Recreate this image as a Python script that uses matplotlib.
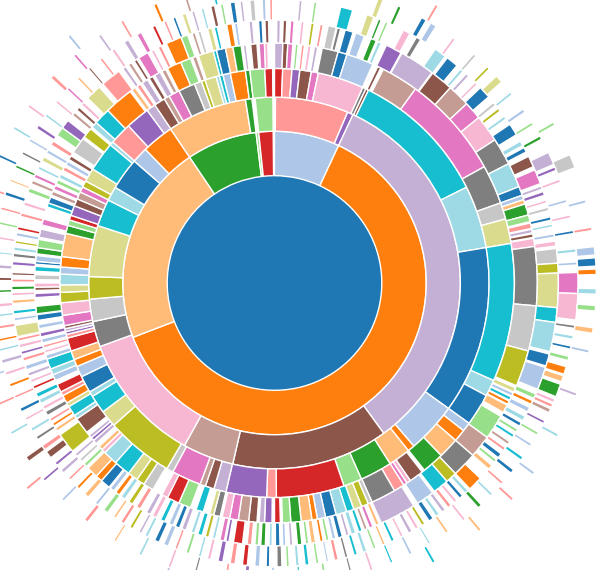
import numpy as np
import matplotlib
matplotlib.use("Agg")
import matplotlib.pyplot as plt

# category20 palette codes
PALETTE = {
    'b': '#1f77b4', 'lb': '#aec7e8', 'o': '#ff7f0e', 'lo': '#ffbb78',
    'g': '#2ca02c', 'lg': '#98df8a', 'r': '#d62728', 'lr': '#ff9896',
    'p': '#9467bd', 'lp': '#c5b0d5', 'br': '#8c564b', 'lbr': '#c49c94',
    'pk': '#e377c2', 'lpk': '#f7b6d2', 'gr': '#7f7f7f', 'lgr': '#c7c7c7',
    'ol': '#bcbd22', 'lol': '#dbdb8d', 'c': '#17becf', 'lc': '#9edae5',
}

# root node
root_color = 'b'

# each ring: (unfilled value before node, node value in degrees, colour code)
ring1 = [(0, 25, 'lb'), (0, 224, 'o'), (0, 77, 'lo'), (0, 27, 'g'), (0, 1, 'lg'), (0, 5.5, 'r')]

ring2 = [(0.3, 22.9, 'lr'), (0, 1.8, 'p'), (0, 119, 'lp'), (0, 49, 'br'), (0, 16, 'lbr'),
         (0, 41, 'lpk'), (0, 8, 'gr'), (0, 7, 'lgr'), (0, 7, 'ol'), (0, 16, 'lol'),
         (0, 8.5, 'c'), (0, 4.5, 'lc'), (0, 10, 'b'), (0, 5, 'lb'), (0, 10, 'o'),
         (0, 25, 'lo'), (0, 2, 'g'), (1, 5.5, 'lg')]

ring3 = [(0, 2.2, 'r'), (0, 2.5, 'lr'), (0, 2.1, 'p'), (0, 3.1, 'br'), (0, 1.9, 'pk'),
         (0, 12.5, 'lpk'), (0, 0.9, 'gr'), (0, 0.8, 'br'), (0, 37.5, 'c'), (0, 17, 'lc'),
         (0, 45.3, 'b'), (0, 13.7, 'lb'), (0, 1.9, 'o'), (0, 6, 'lo'), (0, 8.7, 'g'),
         (0, 5, 'lg'), (0, 18.4, 'r'), (0, 2.6, 'lr'), (0, 11, 'p'), (0, 3.3, 'lp'),
         (0, 2.4, 'br'), (0, 1.5, 'lbr'), (0, 8, 'pk'), (0, 1.8, 'lgr'), (0, 18.4, 'ol'),
         (0, 4.6, 'lol'), (0, 5, 'c'), (0, 1.4, 'lc'), (0, 4.6, 'b'), (0, 3, 'lb'),
         (0, 2, 'o'), (0, 2.4, 'lo'), (0, 3.6, 'r'), (0, 1, 'lr'), (0, 0.8, 'p'),
         (0, 0.8, 'lp'), (0, 0.8, 'br'), (0, 2.8, 'pk'), (0, 3.4, 'lpk'), (0, 2.8, 'ol'),
         (0, 2, 'lol'), (0, 2.9, 'lc'), (0, 1.9, 'lb'), (0, 2.8, 'o'), (0, 6.3, 'lo'),
         (0, 2.2, 'g'), (0, 1.5, 'lg'), (0, 1.3, 'r'), (0, 2.7, 'p'), (0, 2, 'br'),
         (0, 2, 'lbr'), (0, 1.5, 'pk'), (0, 1.8, 'ol'), (0, 3.7, 'lol'), (0, 8, 'c'),
         (0, 1, 'lc'), (0, 6, 'lr'), (0, 6.5, 'p'), (0, 2.5, 'lp'), (0, 3, 'br'),
         (0, 1.5, 'lbr'), (0, 3, 'pk'), (0, 4.5, 'gr'), (0, 2, 'lgr'), (0, 1, 'ol'),
         (0, 3.1, 'lol'), (0, 0.9, 'lc'), (0, 1, 'c'), (0, 2, 'lb'), (0, 4.1, 'o'),
         (0, 1.2, 'g'), (0, 4, 'lg'), (0, 2.1, 'r')]

ring4 = [(0, 2.0, 'lp'), (0, 1.2, 'br'), (0, 1.2, 'pk'), (0.6, 0.7, 'lg'), (0.8, 0.7, 'lr'),
         (0.8, 0.8, 'lpk'), (0.8, 0.8, 'lp'), (1.1, 3.9, 'gr'), (0, 2.2, 'b'), (0, 6.6, 'lb'),
         (1.3, 0.8, 'br'), (0.7, 9, 'lbr'), (0, 25, 'pk'), (0, 9.5, 'gr'), (0, 4, 'lgr'),
         (0, 6, 'lol'), (0, 33.5, 'c'), (0, 4, 'lc'), (0, 7.8, 'b'), (0, 2.2, 'lb'),
         (0, 3, 'o'), (0, 5, 'lo'), (0, 5.3, 'g'), (0.7, 3.5, 'br'), (0, 1, 'lpk'),
         (0, 0.9, 'pk'), (0, 2.6, 'lr'), (0, 6, 'gr'), (0, 1, 'lgr'), (0, 1.7, 'ol'),
         (0, 2, 'lol'), (0, 1.8, 'c'), (0, 2.6, 'lc'), (0, 2.6, 'b'), (0, 2, 'lb'),
         (0, 1.3, 'o'), (0, 2.6, 'lo'), (0, 2.5, 'g'), (0, 2, 'lg'), (0.5, 1.4, 'r'),
         (0.6, 1.8, 'p'), (0, 1.3, 'lp'), (0.5, 2, 'br'), (0, 2.5, 'lbr'), (0, 2.1, 'pk'),
         (0, 1.8, 'lpk'), (0.5, 1.6, 'gr'), (0, 1, 'lol'), (1.6, 1.8, 'c'), (1.4, 3, 'lg'),
         (0, 3, 'r'), (0, 1.5, 'lpk'), (2.5, 2.5, 'lgr'), (0, 2, 'ol'), (0, 2.5, 'lol'),
         (0, 4, 'c'), (0, 3.5, 'lc'), (0, 1, 'lpk'), (0, 1, 'lo'), (1, 1, 'lp'),
         (0, 0.8, 'p'), (0, 0.8, 'lp'), (0.9, 4, 'br'), (0, 1, 'lc'), (0, 2.5, 'c'),
         (0, 1, 'lol'), (0, 2, 'o'), (0, 1, 'lr'), (0, 2, 'r'), (1, 1.5, 'lb'),
         (0, 1.5, 'lc'), (0, 2.5, 'c'), (0, 1, 'lb'), (0.5, 0.7, 'lpk'), (0.6, 0.7, 'lr'),
         (0.5, 1, 'lb'), (0.5, 1, 'p'), (1, 1, 'lb'), (1, 1.4, 'b'), (0.2, 1.8, 'g'),
         (2.1, 1, 'p'), (0.7, 0.8, 'br'), (0, 1, 'lpk'), (0.8, 1.2, 'lgr'), (0.8, 1.2, 'c'),
         (0.5, 0.7, 'b'), (0, 1.4, 'lb'), (0.4, 1.5, 'g'), (0, 2, 'lg'), (0.5, 2, 'lp'),
         (1, 1.5, 'pk'), (3, 1, 'c'), (0, 1.5, 'b'), (0.5, 1, 'lbr'), (0.5, 1, 'pk'),
         (0.5, 1, 'lg'), (0.5, 1, 'lc'), (1, 1, 'lr'), (0.5, 1, 'lb'), (0.5, 1, 'br'),
         (1, 4, 'lgr'), (0.5, 2.5, 'ol'), (0.5, 1.5, 'lc'), (0, 4, 'c'), (0, 7, 'o'),
         (0.5, 1, 'lo'), (0.5, 1, 'lr'), (0.5, 1.5, 'lp'), (0.5, 1, 'br'), (0.5, 1.5, 'lp'),
         (0.5, 1, 'lbr'), (0.5, 3.5, 'o'), (0, 2.5, 'lg'), (0.5, 1, 'lbr'), (0.5, 3.7, 'lol'),
         (0, 0.8, 'c'), (0, 2.2, 'b'), (0, 1.8, 'lo'), (0, 2, 'g'), (0.5, 0.7, 'lp'),
         (1.1, 1.5, 'br'), (0.5, 1.3, 'pk'), (0, 0.8, 'lpk')]

ring5 = [(0.5, 0.8, 'lp'), (0.6, 0.8, 'br'), (0.8, 0.8, 'pk'), (1.5, 0.7, 'lpk'), (1.5, 0.7, 'ol'),
         (1.3, 0.7, 'lr'), (1.1, 1.8, 'lgr'), (0.2, 0.8, 'gr'), (1.0, 1.8, 'b'), (0.6, 2, 'lb'),
         (1.5, 1.3, 'g'), (0.4, 0.8, 'lc'), (1.2, 3.6, 'p'), (0.2, 7.8, 'lp'), (0.2, 5, 'br'),
         (0, 5, 'lbr'), (0, 4, 'pk'), (0, 6, 'lpk'), (0, 6, 'gr'), (0, 5.5, 'lc'),
         (0, 2, 'b'), (0, 1, 'lb'), (0, 1, 'lo'), (0, 2.5, 'g'), (0, 1.5, 'lg'),
         (0.3, 1.2, 'lr'), (0.2, 0.8, 'lp'), (0.2, 0.8, 'br'), (0.2, 1.8, 'lpk'), (0, 13, 'gr'),
         (0, 10, 'lgr'), (0, 8, 'ol'), (0.5, 1, 'lol'), (0.2, 0.8, 'lb'), (0.2, 0.8, 'c'),
         (0.2, 0.8, 'o'), (0.2, 1.8, 'lo'), (1, 5.5, 'lg'), (0, 5, 'lbr'), (0, 5.5, 'gr'),
         (0, 2.5, 'ol'), (0, 3.5, 'c'), (0.5, 4, 'lb'), (1, 8, 'lp'), (0.5, 0.8, 'lo'),
         (0.7, 0.8, 'pk'), (0.5, 0.7, 'lbr'), (0.5, 0.8, 'c'), (0.7, 1, 'lc'), (0.5, 0.7, 'lp'),
         (0.8, 1, 'b'), (0.5, 0.8, 'lb'), (0.7, 0.7, 'lg'), (0.6, 0.7, 'o'), (1, 1, 'lo'),
         (0.5, 0.7, 'lg'), (0.8, 1, 'g'), (1, 0.7, 'lp'), (0.8, 0.7, 'lb'), (0.6, 1, 'b'),
         (0.7, 0.7, 'lc'), (0.8, 1, 'g'), (0.5, 0.8, 'lg'), (0.7, 1, 'lr'), (1, 2, 'r'),
         (1, 0.7, 'p'), (0.3, 1, 'pk'), (1, 0.7, 'lc'), (0.8, 0.8, 'ol'), (0.7, 1, 'c'),
         (0.7, 0.8, 'lc'), (1.2, 1, 'lp'), (0.5, 1, 'b'), (0.5, 1, 'lb'), (1, 1, 'c'),
         (1, 1, 'lpk'), (0.5, 1, 'lp'), (1.5, 1, 'lr'), (1, 1, 'ol'), (1, 1, 'lc'),
         (0.5, 1, 'o'), (0.5, 1, 'lb'), (0.3, 2.2, 'b'), (0, 1.5, 'o'), (0, 2.5, 'lo'),
         (0.5, 0.8, 'lg'), (0.7, 0.7, 'lgr'), (0.8, 0.7, 'lp'), (0.8, 4.5, 'ol'), (1, 0.8, 'lo'),
         (0.5, 0.7, 'o'), (0.5, 0.7, 'lr'), (0.8, 1, 'gr'), (0.5, 0.8, 'lpk'), (0.7, 1, 'lc'),
         (0.5, 1, 'c'), (1, 0.7, 'r'), (0.8, 0.7, 'lpk'), (0.8, 0.8, 'lp'), (0.7, 1, 'lb'),
         (1, 0.8, 'lr'), (0.7, 0.7, 'p'), (0.8, 0.8, 'lpk'), (0.7, 0.7, 'lr'), (0.3, 2.5, 'lol'),
         (1, 0.7, 'lb'), (0.8, 0.8, 'c'), (1.5, 0.8, 'lo'), (0.9, 0.7, 'lpk'), (0.6, 0.8, 'g'),
         (0.9, 0.7, 'lr'), (0.8, 0.6, 'br'), (1.6, 0.8, 'p'), (1, 0.8, 'gr'), (0.6, 0.8, 'lc'),
         (0.8, 0.6, 'ol'), (1, 0.8, 'lb'), (0.6, 0.7, 'r'), (2.3, 0.8, 'lr'), (1.7, 0.8, 'lpk'),
         (2.2, 1, 'lg'), (1, 0.8, 'lbr'), (0.7, 0.8, 'pk'), (1.2, 0.7, 'lc'), (1.3, 1, 'lol'),
         (1, 0.8, 'lb'), (1.2, 1, 'lr'), (1.5, 2, 'lg'), (0, 2, 'p'), (1.5, 0.8, 'lbr'),
         (0.7, 0.8, 'br'), (0.7, 0.8, 'lpk'), (1.2, 3.5, 'lol'), (1, 4.5, 'lr'), (1, 0.8, 'lp'),
         (0.7, 0.8, 'lbr'), (0.7, 0.7, 'br'), (0.5, 2.3, 'pk'), (0.8, 0.7, 'lpk'), (1, 0.8, 'lr'),
         (1.2, 3.5, 'o'), (0, 1.5, 'lg'), (1, 0.7, 'lbr'), (0.6, 0.7, 'lgr'), (1.5, 1, 'lol'),
         (0.5, 0.7, 'c'), (2.1, 1.2, 'o'), (0.5, 0.7, 'lb'), (2.5, 0.8, 'lp'), (1.3, 0.8, 'b'),
         (0.6, 0.8, 'br')]

ring6 = [(5, 0.6, 'lp'), (2.4, 0.6, 'lg'), (4.9, 2.5, 'c'), (3, 1.5, 'lol'), (1, 0.6, 'g'),
         (0.9, 0.6, 'lg'), (3.4, 1.5, 'lpk'), (1.5, 1, 'gr'), (3.5, 2.5, 'lc'), (0.5, 2.5, 'b'),
         (1, 0.7, 'lc'), (0.8, 0.7, 'lp'), (1.8, 0.6, 'lpk'), (0.9, 2.5, 'b'), (1.5, 0.7, 'lgr'),
         (0.8, 0.7, 'ol'), (1.3, 0.7, 'lc'), (1.3, 2.5, 'b'), (1.5, 1, 'lc'), (0.5, 1, 'b'),
         (1, 2.3, 'br'), (0.7, 3, 'pk'), (0.5, 0.7, 'lp'), (0.5, 0.8, 'p'), (1, 0.6, 'lpk'),
         (0.9, 0.7, 'lgr'), (1.3, 0.7, 'b'), (0.8, 0.6, 'lc'), (1.4, 0.7, 'lb'), (0.8, 1, 'lpk'),
         (0.5, 3, 'lgr'), (0, 2, 'ol'), (0, 7, 'lol'), (0, 3, 'c'), (0, 6, 'lc'),
         (0.5, 2.5, 'b'), (0.3, 4.7, 'lb'), (1, 1, 'lg'), (0.5, 0.8, 'o'), (0.7, 1, 'lb'),
         (1, 1, 'lc'), (0.5, 0.8, 'b'), (0.7, 0.7, 'lg'), (0.6, 0.7, 'c'), (1, 0.7, 'lbr'),
         (0.8, 0.7, 'lr'), (0.8, 1, 'b'), (0.5, 0.7, 'lg'), (0.8, 1, 'lo'), (2.5, 3, 'o'),
         (0.5, 0.8, 'lc'), (0.7, 0.8, 'b'), (0.7, 0.7, 'lpk'), (0.8, 0.8, 'lr'), (0.7, 0.8, 'lp'),
         (0.7, 0.8, 'lc'), (0.7, 1, 'b'), (1, 0.7, 'ol'), (0.8, 0.7, 'lpk'), (0.8, 0.8, 'lp'),
         (1.2, 0.6, 'lpk'), (1.4, 0.7, 'c'), (1.3, 0.6, 'lo'), (1.4, 0.6, 'lg'), (1.4, 0.8, 'lc'),
         (1.2, 0.7, 'c'), (1.3, 0.6, 'gr'), (1.4, 0.8, 'lr'), (1.2, 0.5, 'lb'), (1.5, 0.6, 'lg'),
         (1.4, 0.8, 'c'), (1.2, 0.7, 'lc'), (1.3, 0.6, 'lg'), (0.9, 1, 'gr'), (1.5, 0.7, 'b'),
         (1.3, 1, 'lb'), (1.5, 1, 'r'), (1.5, 1, 'lr'), (1.5, 1, 'p'), (1.5, 0.7, 'lpk'),
         (1.3, 0.6, 'lc'), (1.9, 0.7, 'lg'), (1.8, 0.6, 'lr'), (1.4, 1, 'lb'), (1, 1, 'b'),
         (1.5, 0.7, 'lc'), (0.8, 0.6, 'lp'), (1.4, 0.7, 'ol'), (1.3, 0.8, 'lr'), (1.2, 0.6, 'lo'),
         (1.4, 1, 'lg'), (1.5, 0.7, 'lb'), (1.8, 1, 'lo'), (1.5, 0.7, 'o'), (1.8, 0.6, 'lr'),
         (1.4, 0.8, 'lp'), (1.2, 0.7, 'p'), (1.3, 1.5, 'br'), (0.5, 1, 'lr'), (1.5, 0.7, 'gr'),
         (1.3, 0.7, 'lc'), (1.8, 0.6, 'lpk'), (1.4, 0.8, 'b'), (2.2, 0.6, 'lr'), (1.9, 0.7, 'o'),
         (1.8, 0.7, 'lpk'), (1.8, 0.8, 'lp'), (1.7, 0.6, 'lc'), (1.4, 0.6, 'o'), (1.9, 0.7, 'lr'),
         (1.8, 0.6, 'lc'), (1.4, 0.8, 'lpk'), (2.2, 0.6, 'g'), (1.9, 0.7, 'br'), (1.8, 0.8, 'lp'),
         (2.2, 0.5, 'lc'), (2.5, 0.6, 'lpk'), (2.4, 0.6, 'lg'), (2.4, 0.6, 'lr'), (2.4, 0.8, 'b'),
         (2.2, 0.5, 'lo'), (2.5, 0.6, 'g'), (2.4, 0.6, 'gr'), (2.4, 0.6, 'lb'), (2.4, 0.8, 'p'),
         (2.2, 0.6, 'lc'), (2.9, 0.6, 'lpk'), (2.9, 0.6, 'pk'), (2.4, 0.6, 'lo'), (2.4, 0.5, 'br'),
         (2.5, 0.6, 'lr'), (2.4, 0.7, 'lpk'), (2.3, 1, 'lp'), (2, 1, 'pk'), (2.5, 0.7, 'r'),
         (1.8, 0.6, 'lr'), (1.4, 0.6, 'b'), (1.4, 0.8, 'lol'), (1.2, 0.6, 'lp'), (1.4, 0.6, 'lc'),
         (1.4, 0.8, 'br'), (1.2, 0.6, 'lg'), (1.4, 1, 'b'), (1, 0.6, 'lp'), (1.4, 1, 'lgr'),
         (1.5, 0.7, 'lb'), (0.8, 0.6, 'lr')]

ring7 = [(20, 1, 'lol'), (3, 0.7, 'g'), (4.3, 1, 'b'), (1, 1.2, 'lb'), (3.8, 0.6, 'lpk'),
         (4.4, 0.6, 'lgr'), (2.9, 0.6, 'ol'), (1.9, 1.5, 'lol'), (2.5, 0.6, 'lc'), (3.4, 0.7, 'lb'),
         (2.3, 0.6, 'lg'), (2.4, 0.7, 'g'), (2.8, 2.5, 'lp'), (0.5, 0.7, 'p'), (1.8, 0.6, 'lpk'),
         (3.4, 0.6, 'lb'), (2.4, 0.6, 'lpk'), (2.4, 0.6, 'b'), (2.9, 0.7, 'lc'), (1.8, 0.6, 'lb'),
         (1.4, 4, 'pk'), (0, 5, 'lpk'), (1, 0.6, 'gr'), (1.4, 0.7, 'lc'), (1.3, 0.6, 'b'),
         (1.4, 0.8, 'lg'), (1.2, 1.5, 'o'), (0.3, 1.2, 'lo'), (0.5, 2.5, 'g'), (0.5, 0.7, 'lpk'),
         (0.3, 0.7, 'lr'), (0.3, 0.8, 'lbr'), (1.7, 0.6, 'p'), (1.9, 0.6, 'lg'), (1.9, 0.6, 'lb'),
         (2.4, 0.7, 'c'), (2.3, 0.8, 'b'), (2.2, 0.6, 'lr'), (2.4, 0.6, 'lc'), (2.4, 0.8, 'g'),
         (3.2, 0.6, 'lpk'), (3.4, 0.6, 'lo'), (3.4, 0.5, 'lc'), (3.5, 0.6, 'lb'), (3.4, 0.5, 'c'),
         (3.5, 0.6, 'lpk'), (3.4, 0.5, 'gr'), (4.5, 0.6, 'lg'), (4.4, 0.5, 'c'), (4.5, 0.6, 'lb'),
         (4.4, 0.8, 'p'), (3.2, 0.6, 'lr'), (5.4, 0.5, 'gr'), (4.5, 0.6, 'lpk'), (5.4, 0.6, 'lc'),
         (4.9, 0.5, 'lo'), (6.0, 0.8, 'lr'), (5.2, 0.6, 'lb'), (4.6, 0.6, 'p'), (4.2, 1, 'br'),
         (5, 0.6, 'lc'), (5.4, 0.6, 'lr'), (5.0, 0.6, 'lb'), (5.8, 0.8, 'lol'), (6.2, 0.6, 'lp'),
         (4.4, 0.6, 'lc'), (5.9, 0.6, 'lpk'), (5.4, 0.6, 'lg'), (4.9, 0.6, 'lr'), (5.9, 0.6, 'b'),
         (5.4, 0.6, 'lc'), (4.4, 0.6, 'lpk'), (6.4, 0.8, 'lr'), (5.2, 0.6, 'pk'), (5.4, 0.6, 'lp'),
         (4.4, 0.6, 'lr'), (6.4, 0.7, 'o'), (5.3, 0.6, 'lbr'), (4.9, 0.6, 'c'), (5.9, 0.6, 'lp')]

ring8 = [(30, 0.6, 'lr'), (29.4, 0.6, 'lg'), (5.9, 2.5, 'lgr'), (6, 0.6, 'lb'), (4.4, 0.6, 'lr'),
         (2.9, 1.5, 'lb'), (0.5, 1.5, 'b'), (0.5, 1, 'o'), (2.5, 1, 'lc'), (2, 1, 'lg'),
         (3, 1, 'lo'), (3, 0.6, 'lb'), (7.4, 0.6, 'lp'), (7.4, 0.6, 'lc'), (7.4, 0.6, 'lb'),
         (5.4, 0.6, 'lr'), (7.4, 0.6, 'lo'), (9.4, 0.6, 'c'), (14.4, 0.6, 'lg'), (34.4, 0.6, 'lp'),
         (29.4, 0.6, 'lr'), (31.4, 0.6, 'lc'), (27.4, 0.6, 'lpk'), (29.4, 0.6, 'lb'), (24.4, 0.6, 'lo')]

rings = [ring1, ring2, ring3, ring4, ring5, ring6, ring7, ring8]

# ---- layout -------------------------------------------------------------
W, H = 601, 570
CX, CY = 274.5, 283.0        # centre in pixels (from top-left)
R0 = 107.3                   # radius of the root disc (equal-area rings)
RMAX = 330.0

fig = plt.figure(figsize=(W / 100, H / 100), dpi=100)
fig.patch.set_facecolor('white')
ax = fig.add_axes([(CX - RMAX) / W, (H - CY - RMAX) / H, 2 * RMAX / W, 2 * RMAX / H],
                  projection='polar')
ax.set_theta_zero_location('N')
ax.set_theta_direction(-1)
ax.set_ylim(0, RMAX)
ax.axis('off')

EDGE = dict(edgecolor='white', linewidth=1.0)

# root (no outline, so no seam line through the disc)
ax.bar(0, R0, width=2 * np.pi, bottom=0, color=PALETTE[root_color], align='center',
       linewidth=0)

for depth, ring in enumerate(rings, start=1):
    r_in = R0 * np.sqrt(depth)
    r_out = R0 * np.sqrt(depth + 1)
    pos = 0.0
    thetas, widths, cols = [], [], []
    for gap, val, code in ring:
        pos += gap
        thetas.append(np.deg2rad(pos + val / 2))
        widths.append(np.deg2rad(val))
        cols.append(PALETTE[code])
        pos += val
    ax.bar(thetas, r_out - r_in, width=widths, bottom=r_in, color=cols,
           align='center', **EDGE)

fig.savefig('out.png', dpi=100, facecolor='white')
